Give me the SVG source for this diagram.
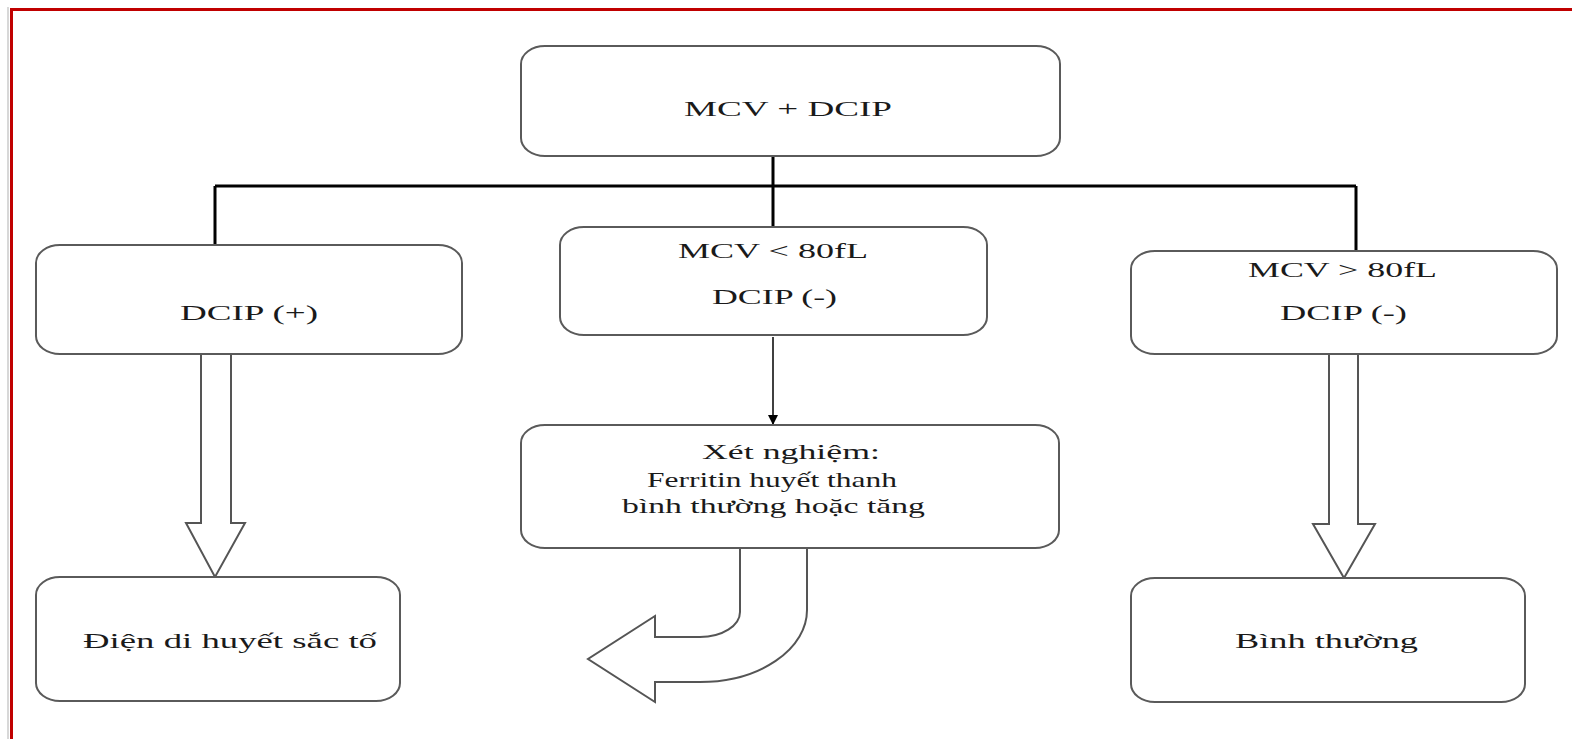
<svg xmlns="http://www.w3.org/2000/svg" width="1572" height="739" viewBox="0 0 1572 739">
  <style>
    .box { fill: #ffffff; stroke: #5a5a5a; stroke-width: 2; }
    .tree { stroke: #000000; stroke-width: 3; fill: none; }
    .block { fill: #ffffff; stroke: #555555; stroke-width: 2; stroke-linejoin: miter; }
    .lbl { font-family: "Liberation Serif", "Times New Roman", serif; font-size: 22px; fill: #1a1a1a; }
  </style>
  <defs>
    <marker id="tip" viewBox="0 0 10 10" refX="9" refY="5" markerWidth="10" markerHeight="10" markerUnits="userSpaceOnUse" orient="auto">
      <path d="M0,0 L10,5 L0,10 Z" fill="#000000"/>
    </marker>
  </defs>

  <!-- page background and red frame -->
  <rect x="0" y="0" width="1572" height="739" fill="#ffffff"/>
  <path d="M8,739 V7" stroke="#d8d8d8" stroke-width="2" fill="none"/>
  <path d="M11.5,739 V9.5 H1572" stroke="#c00000" stroke-width="3" fill="none"/>

  <!-- connectors -->
  <g id="connectors">
    <path class="tree" d="M773,156 V227 M215,186 H1356 M215,186 V245 M1356,186 V251"/>
    <line x1="773" y1="337" x2="773" y2="424" stroke="#000000" stroke-width="1.5" marker-end="url(#tip)"/>
    <path class="block" d="M201,354 V523 H186 L215,577 L245,523 H231 V354"/>
    <path class="block" d="M1329,355 V524 H1313 L1344,578 L1375,524 H1358 V355"/>
    <path class="block" d="M740,548 V612 A40,25 0 0 1 700,637 H655 V616 L588,659 L655,702 V682 H700 A107,72 0 0 0 807,610 V548"/>
  </g>

  <g id="node-root">
    <rect class="box" x="521" y="46" width="539" height="110" rx="24" ry="18"/>
    <text class="lbl" x="684" y="116" textLength="208" lengthAdjust="spacingAndGlyphs">MCV + DCIP</text>
  </g>

  <g id="node-dcip-pos">
    <rect class="box" x="36" y="245" width="426" height="109" rx="24" ry="18"/>
    <text class="lbl" x="180" y="320" textLength="138" lengthAdjust="spacingAndGlyphs">DCIP (+)</text>
  </g>

  <g id="node-mcv-low">
    <rect class="box" x="560" y="227" width="427" height="108" rx="24" ry="18"/>
    <text class="lbl" x="678" y="258" textLength="190" lengthAdjust="spacingAndGlyphs">MCV &lt; 80fL</text>
    <text class="lbl" x="712" y="304" textLength="125" lengthAdjust="spacingAndGlyphs">DCIP (-)</text>
  </g>

  <g id="node-mcv-high">
    <rect class="box" x="1131" y="251" width="426" height="103" rx="24" ry="18"/>
    <text class="lbl" x="1248" y="277" textLength="189" lengthAdjust="spacingAndGlyphs">MCV &gt; 80fL</text>
    <text class="lbl" x="1280" y="320" textLength="127" lengthAdjust="spacingAndGlyphs">DCIP (-)</text>
  </g>

  <g id="node-ferritin">
    <rect class="box" x="521" y="425" width="538" height="123" rx="24" ry="18"/>
    <text class="lbl" x="702" y="459" textLength="178" lengthAdjust="spacingAndGlyphs">Xét nghiệm:</text>
    <text class="lbl" x="647" y="487" textLength="250" lengthAdjust="spacingAndGlyphs">Ferritin huyết thanh</text>
    <text class="lbl" x="622" y="513" textLength="303" lengthAdjust="spacingAndGlyphs">bình thường hoặc tăng</text>
  </g>

  <g id="node-electrophoresis">
    <rect class="box" x="36" y="577" width="364" height="124" rx="24" ry="18"/>
    <text class="lbl" x="83" y="648" textLength="294" lengthAdjust="spacingAndGlyphs">Điện di huyết sắc tố</text>
  </g>

  <g id="node-normal">
    <rect class="box" x="1131" y="578" width="394" height="124" rx="24" ry="18"/>
    <text class="lbl" x="1235" y="648" textLength="183" lengthAdjust="spacingAndGlyphs">Bình thường</text>
  </g>
</svg>
